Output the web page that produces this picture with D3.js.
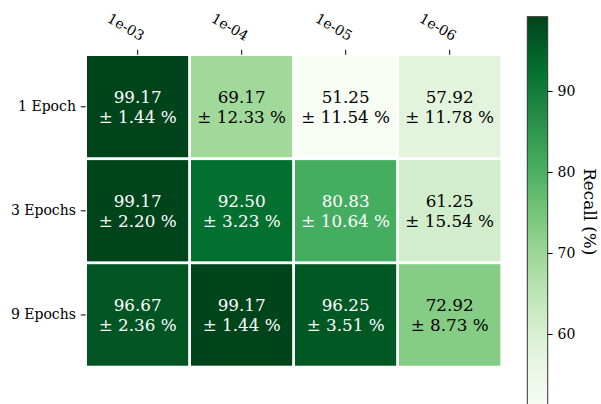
<!DOCTYPE html>
<html>
<head>
<meta charset="utf-8">
<script src="https://cdn.jsdelivr.net/npm/d3@7"></script>
<style>
  body { margin: 0; background: #fff; }
  svg { display: block; font-family: "DejaVu Serif", serif; }
</style>
</head>
<body>
<svg id="chart" width="601" height="404"></svg>
<script>
const rowLabels = ["1 Epoch", "3 Epochs", "9 Epochs"];
const colLabels = ["1e-03", "1e-04", "1e-05", "1e-06"];
const meanValues = [
  [99.17, 69.17, 51.25, 57.92],
  [99.17, 92.50, 80.83, 61.25],
  [96.67, 99.17, 96.25, 72.92]
];
const stdValues = [
  [1.44, 12.33, 11.54, 11.78],
  [2.20, 3.23, 10.64, 15.54],
  [2.36, 1.44, 3.51, 8.73]
];
const colorbarTicks = [60, 70, 80, 90];
const colorbarLabel = "Recall (%)";

(function () {
const FONT = "DejaVu Serif, serif";
const svg = d3.select("#chart");

const pLeft = 85.7, pRight = 501.7, pTop = 54.7, pBottom = 367;

const x = d3.scaleBand().domain(colLabels).range([pLeft, pRight]);
const y = d3.scaleBand().domain(rowLabels).range([pTop, pBottom]);

const allVals = meanValues.flat();
const vmin = d3.min(allVals), vmax = d3.max(allVals);
const greens = ["#f7fcf5","#e5f5e0","#c7e9c0","#a1d99b","#74c476","#41ab5d","#238b45","#006d2c","#00441b"];
const color = d3.scaleLinear()
  .domain(greens.map((_, i) => vmin + (vmax - vmin) * i / (greens.length - 1)))
  .range(greens)
  .interpolate(d3.interpolateRgb)
  .clamp(true);

const cells = [];
rowLabels.forEach((r, i) => colLabels.forEach((c, j) => {
  cells.push({ r, c, m: meanValues[i][j], s: stdValues[i][j] });
}));

const g = svg.append("g");
g.selectAll("rect.cell").data(cells).enter().append("rect")
  .attr("class", "cell")
  .attr("x", d => x(d.c))
  .attr("y", d => y(d.r))
  .attr("width", x.bandwidth())
  .attr("height", y.bandwidth())
  .attr("fill", d => color(d.m))
  .attr("stroke", "#fff")
  .attr("stroke-width", 2.6);

const mid = (vmin + vmax) / 2;
const FS = 16.8;
const txt = g.selectAll("text.val").data(cells).enter().append("text")
  .attr("class", "val")
  .attr("font-family", FONT)
  .attr("text-anchor", "middle")
  .attr("font-size", FS)
  .attr("fill", d => d.m > mid ? "#fff" : "#000");
txt.append("tspan")
  .attr("x", d => x(d.c) + x.bandwidth() / 2)
  .attr("y", d => y(d.r) + y.bandwidth() / 2 - FS * 0.6)
  .attr("dominant-baseline", "central")
  .text(d => d.m.toFixed(2));
txt.append("tspan")
  .attr("x", d => x(d.c) + x.bandwidth() / 2)
  .attr("y", d => y(d.r) + y.bandwidth() / 2 + FS * 0.6)
  .attr("dominant-baseline", "central")
  .text(d => "\u00b1 " + d.s.toFixed(2) + " %");

// Top axis
const topAxis = d3.axisTop(x).tickSize(4.9).tickPadding(3);
const tg = svg.append("g").attr("transform", `translate(0,${pTop})`).call(topAxis);
tg.select(".domain").remove();
tg.selectAll(".tick line").attr("stroke", "#000").attr("stroke-width", 1);
tg.selectAll(".tick text")
  .attr("font-family", FONT)
  .attr("font-size", 14)
  .attr("fill", "#000")
  .attr("text-anchor", "end")
  .attr("dominant-baseline", "auto")
  .attr("x", 0).attr("y", 0)
  .attr("transform", "translate(3,-13.5) rotate(30)");

// Left axis
const leftAxis = d3.axisLeft(y).tickSize(4.9).tickPadding(4.9);
const lg = svg.append("g").attr("transform", `translate(${pLeft},0)`).call(leftAxis);
lg.select(".domain").remove();
lg.selectAll(".tick line").attr("stroke", "#000").attr("stroke-width", 1);
lg.selectAll(".tick text")
  .attr("font-family", FONT)
  .attr("font-size", 14)
  .attr("fill", "#000");

// Colorbar
const cbX = 527.3, cbW = 20.4, cbTop = 16.7;
const cbScale = d3.scaleLinear().domain([vmin, vmax]).range([cbTop + 8.1 * (vmax - vmin), cbTop]);
const cbBottom = cbScale(vmin);
const defs = svg.append("defs");
const grad = defs.append("linearGradient").attr("id", "cbgrad")
  .attr("x1", 0).attr("y1", 1).attr("x2", 0).attr("y2", 0);
d3.range(0, 1.0001, 0.05).forEach(t => {
  grad.append("stop").attr("offset", t).attr("stop-color", color(vmin + t * (vmax - vmin)));
});
svg.append("rect")
  .attr("x", cbX).attr("y", cbTop)
  .attr("width", cbW).attr("height", cbBottom - cbTop)
  .attr("fill", "url(#cbgrad)")
  .attr("stroke", "#333").attr("stroke-width", 1);

const cbAxis = d3.axisRight(cbScale).tickValues(colorbarTicks).tickSize(4.9).tickPadding(4.9).tickFormat(d3.format("d"));
const cg = svg.append("g").attr("transform", `translate(${cbX + cbW},0)`).call(cbAxis);
cg.select(".domain").remove();
cg.selectAll(".tick line").attr("stroke", "#000").attr("stroke-width", 1);
cg.selectAll(".tick text")
  .attr("font-family", FONT)
  .attr("font-size", 14)
  .attr("fill", "#000");

svg.append("text")
  .attr("transform", `translate(590,211.7) rotate(90)`)
  .attr("font-family", FONT)
  .attr("text-anchor", "middle")
  .attr("dominant-baseline", "central")
  .attr("font-size", 16.8)
  .attr("fill", "#000")
  .text(colorbarLabel);
})();
</script>
</body>
</html>
